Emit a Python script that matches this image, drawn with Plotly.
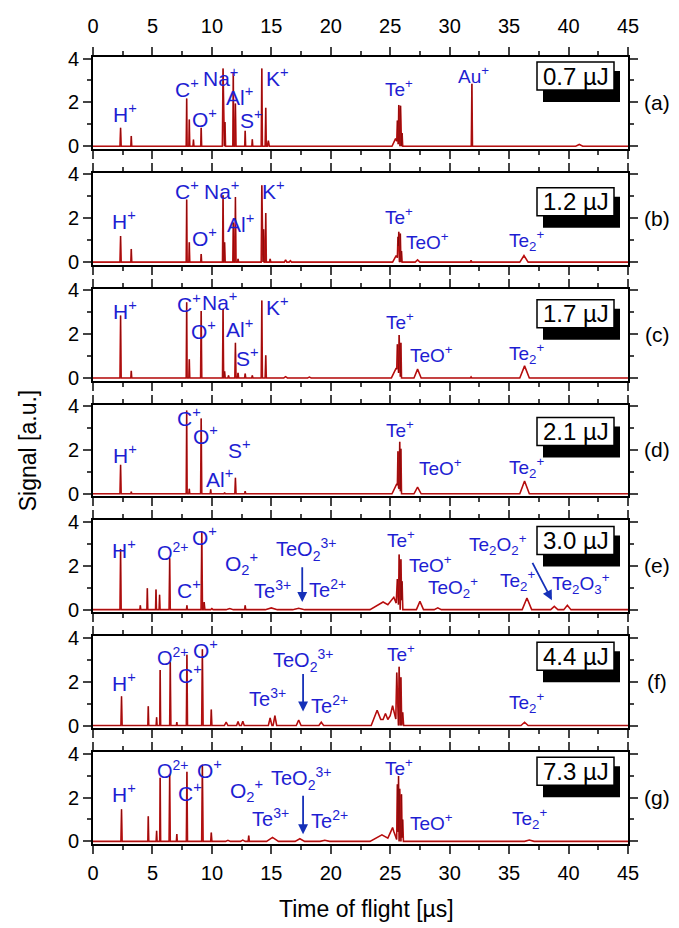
import numpy as np
import plotly.graph_objects as go
from plotly.subplots import make_subplots

# ---------------- data ----------------
PANEL_TAGS = ["(a)", "(b)", "(c)", "(d)", "(e)", "(f)", "(g)"]
ENERGIES = ["0.7 µJ", "1.2 µJ", "1.7 µJ", "2.1 µJ", "3.0 µJ", "4.4 µJ", "7.3 µJ"]
X_TICKS = [0, 5, 10, 15, 20, 25, 30, 35, 40, 45]
Y_TICKS = [0, 2, 4]

# peaks: (time of flight [µs], signal [a.u.], half width [µs])
PEAKS_A = [(2.32, 0.84, 0.05), (3.22, 0.47, 0.04), (7.88, 2.18, 0.04), (8.1, 1.22, 0.04),
           (8.45, 0.3, 0.04), (9.1, 0.84, 0.04), (10.94, 3.55, 0.06), (11.1, 1.1, 0.05),
           (11.8, 3.37, 0.04), (11.98, 1.95, 0.05), (12.8, 0.7, 0.04), (13.4, 0.32, 0.04),
           (14.2, 3.55, 0.05), (14.53, 1.75, 0.05), (14.75, 0.25, 0.08),
           (25.45, 0.35, 0.3), (25.6, 1.0, 0.05), (25.72, 1.85, 0.05), (25.87, 1.85, 0.05),
           (26.0, 0.6, 0.05), (31.87, 2.85, 0.05), (40.9, 0.08, 0.3)]
PEAKS_B = [(2.32, 1.19, 0.05), (3.22, 0.6, 0.04), (7.88, 2.85, 0.04), (8.1, 0.9, 0.04),
           (9.1, 0.37, 0.04), (10.94, 3.05, 0.05), (11.07, 0.9, 0.05), (11.8, 1.8, 0.04),
           (11.98, 2.97, 0.05), (12.2, 0.15, 0.05), (14.2, 3.5, 0.05), (14.35, 1.5, 0.05),
           (14.53, 2.24, 0.05), (14.9, 0.15, 0.06), (16.2, 0.1, 0.1), (16.6, 0.06, 0.1),
           (25.5, 0.3, 0.3), (25.65, 1.0, 0.05), (25.72, 1.3, 0.05), (25.85, 1.3, 0.05),
           (25.95, 0.5, 0.05), (27.3, 0.1, 0.2), (31.8, 0.08, 0.06), (36.25, 0.3, 0.35)]
PEAKS_C = [(2.32, 2.85, 0.05), (3.22, 0.32, 0.04), (7.88, 3.45, 0.04), (8.1, 0.85, 0.04),
           (9.1, 3.05, 0.05), (10.94, 3.15, 0.05), (11.07, 0.3, 0.05), (11.4, 0.12, 0.05),
           (11.98, 1.6, 0.05), (12.2, 0.23, 0.05), (12.8, 0.2, 0.05), (13.4, 0.12, 0.05),
           (14.2, 3.53, 0.05), (14.53, 1.03, 0.05), (16.2, 0.06, 0.15), (18.2, 0.04, 0.15),
           (25.5, 0.45, 0.4), (25.6, 1.2, 0.05), (25.75, 1.79, 0.05), (25.9, 1.6, 0.05),
           (27.3, 0.4, 0.3), (31.8, 0.05, 0.06), (36.3, 0.55, 0.4)]
PEAKS_D = [(2.32, 1.32, 0.05), (3.22, 0.1, 0.04), (7.88, 3.8, 0.04), (8.1, 0.23, 0.04),
           (9.1, 3.44, 0.05), (9.9, 0.2, 0.04), (11.07, 0.06, 0.05), (11.98, 0.73, 0.05),
           (12.8, 0.12, 0.05), (25.55, 0.45, 0.4), (25.65, 1.6, 0.05), (25.8, 2.2, 0.05),
           (25.9, 2.0, 0.05), (27.3, 0.3, 0.3), (36.3, 0.58, 0.4)]
PEAKS_E = [(2.32, 2.77, 0.05), (3.98, 0.2, 0.04), (4.57, 0.98, 0.04), (5.3, 0.92, 0.04),
           (5.6, 0.68, 0.04), (6.45, 2.35, 0.05), (7.9, 0.2, 0.04), (9.15, 3.56, 0.06),
           (9.35, 0.35, 0.06), (10.0, 0.05, 0.1), (11.5, 0.05, 0.3), (12.8, 0.2, 0.05),
           (15.0, 0.08, 0.5), (17.3, 0.06, 0.5), (24.4, 0.35, 1.1), (25.3, 0.5, 0.5),
           (25.6, 1.2, 0.1), (25.75, 2.47, 0.06), (25.9, 2.3, 0.06), (26.0, 1.3, 0.06),
           (27.5, 0.38, 0.3), (29.0, 0.08, 0.3), (36.5, 0.53, 0.4), (38.8, 0.15, 0.3),
           (39.9, 0.2, 0.3)]
PEAKS_F = [(2.4, 1.33, 0.05), (4.65, 0.88, 0.04), (5.35, 0.38, 0.04), (5.65, 2.53, 0.04),
           (6.5, 2.88, 0.05), (7.05, 0.15, 0.04), (7.9, 3.23, 0.05), (9.2, 3.48, 0.06),
           (9.95, 0.73, 0.05), (11.2, 0.15, 0.15), (12.2, 0.18, 0.12), (12.6, 0.2, 0.12),
           (14.9, 0.35, 0.15), (15.3, 0.45, 0.15), (17.3, 0.25, 0.2), (19.2, 0.15, 0.2),
           (23.9, 0.7, 0.5), (24.6, 0.55, 0.4), (25.2, 0.9, 0.4), (25.55, 2.3, 0.08),
           (25.75, 2.68, 0.06), (25.9, 2.2, 0.06), (26.05, 0.6, 0.08), (36.3, 0.15, 0.3)]
PEAKS_G = [(2.4, 1.47, 0.05), (4.65, 1.14, 0.04), (5.35, 0.48, 0.04), (5.65, 2.9, 0.04),
           (6.45, 3.06, 0.05), (7.05, 0.33, 0.04), (7.9, 3.17, 0.05), (9.2, 3.5, 0.06),
           (9.95, 0.4, 0.05), (11.35, 0.05, 0.2), (12.6, 0.06, 0.2), (13.1, 0.26, 0.05),
           (15.1, 0.18, 0.5), (17.4, 0.12, 0.4), (19.5, 0.05, 0.4), (24.3, 0.3, 1.0),
           (25.2, 0.6, 0.4), (25.6, 2.6, 0.06), (25.7, 2.98, 0.05), (25.8, 2.4, 0.05),
           (25.95, 2.15, 0.05), (26.05, 1.0, 0.06), (36.7, 0.06, 0.4)]

P = "<sup>+</sup>"
LABELS_A = [("H" + P, 2.65, 1.5), ("C" + P, 7.9, 2.65), ("O" + P, 9.4, 1.27), ("Na" + P, 10.7, 3.14),
            ("Al" + P, 12.3, 2.3), ("S" + P, 13.3, 1.23), ("K" + P, 15.5, 3.14),
            ("Te" + P, 25.7, 2.64), ("Au" + P, 32.0, 3.27)]
LABELS_B = [("H" + P, 2.6, 1.9), ("C" + P, 7.9, 3.3), ("O" + P, 9.4, 1.14), ("Na" + P, 10.8, 3.3),
            ("Al" + P, 12.4, 1.8), ("K" + P, 15.2, 3.3), ("Te" + P, 25.7, 2.1),
            ("TeO" + P, 28.1, 0.95), ("Te<sub>2</sub>" + P, 36.5, 1.0)]
LABELS_C = [("H" + P, 2.65, 3.1), ("C" + P, 8.05, 3.4), ("O" + P, 9.3, 2.2), ("Na" + P, 10.6, 3.5),
            ("Al" + P, 12.35, 2.3), ("S" + P, 13.0, 0.95), ("K" + P, 15.5, 3.3),
            ("Te" + P, 25.8, 2.6), ("TeO" + P, 28.5, 1.1), ("Te<sub>2</sub>" + P, 36.5, 1.1)]
LABELS_D = [("H" + P, 2.65, 1.8), ("C" + P, 8.05, 3.5), ("O" + P, 9.5, 2.67), ("S" + P, 12.35, 2.05),
            ("Al" + P, 10.6, 0.7), ("Te" + P, 25.8, 2.95), ("TeO" + P, 29.2, 1.22),
            ("Te<sub>2</sub>" + P, 36.5, 1.22)]
LABELS_E = [("H" + P, 2.6, 2.76), ("O<sup>2+</sup>", 6.7, 2.67), ("C" + P, 8.1, 0.94), ("O" + P, 9.4, 3.35),
            ("O<sub>2</sub>" + P, 12.5, 2.1), ("TeO<sub>2</sub><sup>3+</sup>", 17.9, 2.75),
            ("Te<sup>3+</sup>", 15.1, 0.9), ("Te<sup>2+</sup>", 19.7, 0.95), ("Te" + P, 25.9, 3.2),
            ("TeO" + P, 28.4, 2.1), ("TeO<sub>2</sub>" + P, 30.3, 1.0),
            ("Te<sub>2</sub>O<sub>2</sub>" + P, 34.1, 2.95), ("Te<sub>2</sub>" + P, 35.7, 1.35),
            ("Te<sub>2</sub>O<sub>3</sub>" + P, 41.05, 1.2)]
LABELS_F = [("H" + P, 2.6, 1.97), ("O<sup>2+</sup>", 6.7, 3.15), ("C" + P, 8.2, 2.37), ("O" + P, 9.5, 3.5),
            ("TeO<sub>2</sub><sup>3+</sup>", 17.65, 2.97), ("Te<sup>3+</sup>", 14.7, 1.29),
            ("Te<sup>2+</sup>", 19.9, 0.97), ("Te" + P, 25.9, 3.3), ("Te<sub>2</sub>" + P, 36.5, 1.06)]
LABELS_G = [("H" + P, 2.6, 2.2), ("O<sup>2+</sup>", 6.75, 3.3), ("C" + P, 8.2, 2.25), ("O" + P, 9.8, 3.3),
            ("O<sub>2</sub>" + P, 12.95, 2.33), ("TeO<sub>2</sub><sup>3+</sup>", 17.5, 2.86),
            ("Te<sup>3+</sup>", 14.95, 1.1), ("Te<sup>2+</sup>", 19.9, 1.0), ("Te" + P, 25.7, 3.4),
            ("TeO" + P, 28.5, 0.9), ("Te<sub>2</sub>" + P, 36.7, 1.05)]

# arrows: (panel index, tail t, tail v, head t, head v)
ARROWS = [(4, 17.6, 2.0, 17.6, 0.35), (4, 36.9, 2.2, 38.6, 0.43),
          (5, 17.67, 2.42, 17.67, 0.64), (6, 17.67, 2.15, 17.67, 0.33)]

PEAKS = [PEAKS_A, PEAKS_B, PEAKS_C, PEAKS_D, PEAKS_E, PEAKS_F, PEAKS_G]
LABELS = [LABELS_A, LABELS_B, LABELS_C, LABELS_D, LABELS_E, LABELS_F, LABELS_G]

# ---------------- layout constants ----------------
W, H = 679, 928
ML, MR, MT, MB = 93, 51, 57, 84
GAP = 24
PLOT_H = H - MT - MB
PANEL_H = (PLOT_H - 6 * GAP) / 7
PLOT_W = W - ML - MR
BOX_TOP = [5, 15, 11, 13, 6, 6, 5]   # px below panel top
FONT = "Liberation Sans, Arial, sans-serif"
BLUE = "#1e1ed2"


def spectrum(peaks):
    xs = {0.0, 45.0}
    for t, h, w in peaks:
        xs.update([t - w, t, t + w])
    xs = np.array(sorted(xs))
    ys = np.zeros_like(xs)
    for t, h, w in peaks:
        ys += h * np.clip(1 - np.abs(xs - t) / w, 0, None)
    return xs, ys


fig = make_subplots(rows=7, cols=1, vertical_spacing=GAP / PLOT_H)

for i, peaks in enumerate(PEAKS):
    r = i + 1
    xs, ys = spectrum(peaks)
    fig.add_trace(go.Scatter(x=xs, y=ys, mode="lines", line=dict(color="#d81818", width=1.6),
                             showlegend=False), row=r, col=1)
    fig.add_trace(go.Scatter(x=xs, y=ys, mode="lines", line=dict(color="rgba(60,0,0,0.55)", width=0.6),
                             showlegend=False, hoverinfo="skip"), row=r, col=1)
    fig.update_xaxes(range=[0, 45], tickvals=X_TICKS, ticks="outside", ticklen=8, tickwidth=1.5,
                     minor=dict(dtick=2.5, tick0=0, ticks="outside", ticklen=4, tickwidth=1.5),
                     showline=True, linecolor="black", linewidth=2, mirror="ticks",
                     showgrid=False, zeroline=False,
                     showticklabels=(r in (1, 7)), side="top" if r == 1 else "bottom",
                     ticklabelstandoff=6 if r == 1 else 2,
                     tickfont=dict(size=20, color="black", family=FONT), row=r, col=1)
    fig.update_yaxes(range=[-0.12, 4.07], tickvals=Y_TICKS, ticks="outside", ticklen=8, tickwidth=1.5,
                     minor=dict(dtick=1, tick0=0, ticks="outside", ticklen=4, tickwidth=1.5),
                     showline=True, linecolor="black", linewidth=2, mirror="ticks",
                     showgrid=False, zeroline=False,
                     tickfont=dict(size=20, color="black", family=FONT), row=r, col=1)

    xref = "x" if r == 1 else f"x{r}"
    yref = "y" if r == 1 else f"y{r}"
    for text, t, v in LABELS[i]:
        if "3+" in text or "2+" in text:
            size = 20
        elif t > 20:
            size = 19
        else:
            size = 21
        fig.add_annotation(x=t, y=v, xref=xref, yref=yref, text=text, showarrow=False,
                           xanchor="center", yanchor="middle",
                           font=dict(size=size, color=BLUE, family=FONT))
    # panel tag
    fig.add_annotation(x=1.055, y=2, xref=f"{xref} domain", yref=yref, text=PANEL_TAGS[i],
                       showarrow=False, xanchor="center", yanchor="middle",
                       font=dict(size=21, color="black", family=FONT))
    # energy box with shadow
    x0 = (537 - ML) / PLOT_W
    x1 = (614 - ML) / PLOT_W
    y0 = 1 - (BOX_TOP[i] + 28) / PANEL_H
    y1 = 1 - BOX_TOP[i] / PANEL_H
    dx = 6 / PLOT_W
    dy0 = 12 / PANEL_H
    dy1 = 9 / PANEL_H
    fig.add_shape(type="rect", xref=f"{xref} domain", yref=f"{yref} domain",
                  x0=x0 + dx, x1=x1 + dx, y0=y0 - dy0, y1=y1 - dy1,
                  fillcolor="black", line=dict(width=0))
    fig.add_shape(type="rect", xref=f"{xref} domain", yref=f"{yref} domain",
                  x0=x0, x1=x1, y0=y0, y1=y1,
                  fillcolor="white", line=dict(color="black", width=1.5))
    fig.add_annotation(x=(x0 + x1) / 2, y=(y0 + y1) / 2, xref=f"{xref} domain", yref=f"{yref} domain",
                       text=ENERGIES[i], showarrow=False, xanchor="center", yanchor="middle",
                       font=dict(size=24, color="black", family=FONT))

for (i, tx, tv, hx, hv) in ARROWS:
    r = i + 1
    xref = "x" if r == 1 else f"x{r}"
    yref = "y" if r == 1 else f"y{r}"
    fig.add_annotation(x=hx, y=hv, ax=tx, ay=tv, xref=xref, yref=yref, axref=xref, ayref=yref,
                       text="", showarrow=True, arrowhead=2, arrowsize=1.1, arrowwidth=1.8,
                       arrowcolor="#1530b8")

fig.add_annotation(x=-0.122, y=0.5, xref="paper", yref="paper", text="Signal [a.u.]",
                   textangle=-90, showarrow=False, xanchor="center", yanchor="middle",
                   font=dict(size=23, color="black", family=FONT))
fig.add_annotation(x=0.512, y=-0.083, xref="paper", yref="paper", text="Time of flight [µs]",
                   showarrow=False, xanchor="center", yanchor="middle",
                   font=dict(size=23, color="black", family=FONT))

fig.update_layout(width=W, height=H, margin=dict(l=ML, r=MR, t=MT, b=MB),
                  plot_bgcolor="white", paper_bgcolor="white", showlegend=False,
                  font=dict(family=FONT, color="black"))

fig.write_html("out.html")
